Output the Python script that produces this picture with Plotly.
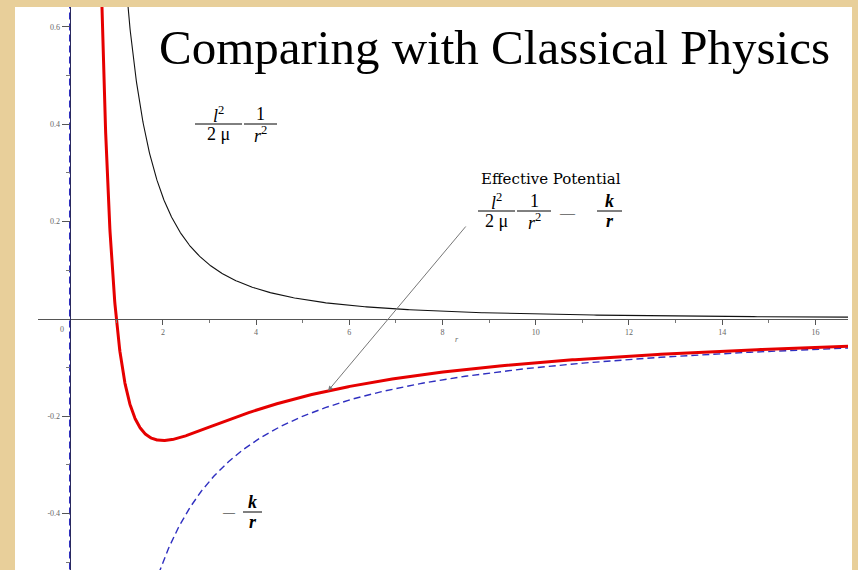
import numpy as np
import plotly.graph_objects as go

# Effective potential for a central force: U_eff = (l^2 / 2mu) / r^2 - k / r
L2_OVER_2MU = 1.0
K = 1.0

X_RANGE = [-0.68, 16.70]
Y_RANGE = [-0.516, 0.641]

X_TICKS = [2, 4, 6, 8, 10, 12, 14, 16]
X_TICK_LABELS = ["2", "4", "6", "8", "10", "12", "14", "16"]
X_MINOR = [1, 3, 5, 7, 9, 11, 13, 15]
Y_TICKS = [-0.4, -0.2, 0.2, 0.4, 0.6]
Y_TICK_LABELS = ["-0.4", "-0.2", "0.2", "0.4", "0.6"]
Y_MINOR = [-0.5, -0.3, -0.1, 0.1, 0.3, 0.5]

W, H = 858, 570
ML, MR, MT, MB = 38, 10, 7, 0
PW, PH = W - ML - MR, H - MT - MB

r_pos = np.geomspace(0.004, 16.9, 1600)
r_neg = np.linspace(-0.68, -0.004, 50)

centrifugal = L2_OVER_2MU / r_pos**2
coulomb_r = np.concatenate([r_neg, r_pos])
coulomb = -K / coulomb_r
effective = L2_OVER_2MU / r_pos**2 - K / r_pos


def px_to_data(px, py):
    """Convert a pixel position on the page to data coordinates."""
    x = X_RANGE[0] + (px - ML) / PW * (X_RANGE[1] - X_RANGE[0])
    y = Y_RANGE[1] - (py - MT) / PH * (Y_RANGE[1] - Y_RANGE[0])
    return x, y


fig = go.Figure()

fig.add_trace(go.Scatter(x=coulomb_r, y=coulomb, mode="lines",
                         line=dict(color="#2f2fc0", width=1.4, dash="7px,4px"),
                         hoverinfo="skip"))
fig.add_trace(go.Scatter(x=r_pos, y=centrifugal, mode="lines",
                         line=dict(color="#111111", width=1.1),
                         hoverinfo="skip"))
fig.add_trace(go.Scatter(x=r_pos, y=effective, mode="lines",
                         line=dict(color="#e60000", width=3),
                         hoverinfo="skip"))

serif = "Liberation Serif"
tick_font = dict(family=serif, size=8, color="#666666")

fig.update_layout(
    width=W, height=H,
    margin=dict(l=ML, r=MR, t=MT, b=MB, pad=0),
    paper_bgcolor="#e8cf9a",
    plot_bgcolor="rgba(0,0,0,0)",
    showlegend=False,
    xaxis=dict(
        range=X_RANGE, anchor="free",
        position=(0 - Y_RANGE[0]) / (Y_RANGE[1] - Y_RANGE[0]),
        showgrid=False, zeroline=False,
        showline=True, linecolor="#555555", linewidth=1,
        tickmode="array", tickvals=X_TICKS, ticktext=X_TICK_LABELS,
        ticks="outside", ticklen=5, tickcolor="#555555", tickwidth=1,
        tickfont=tick_font,
        minor=dict(tickmode="array", tickvals=X_MINOR, ticks="outside",
                   ticklen=3, tickcolor="#777777", showgrid=False),
    ),
    yaxis=dict(
        range=Y_RANGE, anchor="free",
        position=(0 - X_RANGE[0]) / (X_RANGE[1] - X_RANGE[0]),
        showgrid=False, zeroline=False,
        showline=True, linecolor="#2a2a60", linewidth=1,
        tickmode="array", tickvals=Y_TICKS, ticktext=Y_TICK_LABELS,
        ticks="outside", ticklen=8, tickcolor="#555555", tickwidth=1,
        tickfont=tick_font,
        minor=dict(tickmode="array", tickvals=Y_MINOR, ticks="outside",
                   ticklen=4, tickcolor="#777777", showgrid=False),
    ),
)

# white slide panel behind the plot
fig.add_shape(type="rect", xref="paper", yref="paper", layer="below",
              x0=(15 - ML) / PW, x1=(852 - ML) / PW,
              y0=(H - MT - 570) / PH, y1=1.0,
              fillcolor="white", line=dict(width=0))

annotations = []


def text_at(px, py, text, size=16, xanchor="center", family=serif,
            color="black", angle=0):
    x, y = px_to_data(px, py)
    annotations.append(dict(x=x, y=y, xref="x", yref="y", text=text,
                            showarrow=False, xanchor=xanchor, yanchor="middle",
                            textangle=angle,
                            font=dict(family=family, size=size, color=color)))


def fraction(px0, px1, py, num, den, size=18):
    xc = (px0 + px1) / 2
    text_at(xc, py - 10, num, size)
    text_at(xc, py + 10, den, size)
    x0, y0 = px_to_data(px0, py)
    x1, _ = px_to_data(px1, py)
    fig.add_shape(type="line", xref="x", yref="y", x0=x0, x1=x1, y0=y0, y1=y0,
                  line=dict(color="black", width=1))


L2 = "<i>l</i><sup>2</sup>"
R2 = "<i>r</i><sup>2</sup>"
KB = "<b><i>k</i></b>"
RI = "<b><i>r</i></b>"

# centrifugal term label
fraction(195, 242, 124, L2, "2 \u03bc")
fraction(244, 277, 124, "1", R2)

# effective potential label
text_at(551, 179, "Effective Potential", size=15, family="DejaVu Serif")
fraction(478, 515, 211, L2, "2 \u03bc")
fraction(517, 551, 211, "1", R2)
text_at(567, 213, "\u2014", size=15)
fraction(597, 622, 211, KB, RI)

# -k/r label
text_at(229, 512, "\u2014", size=12)
fraction(243, 262, 512, KB, RI)

# axis names and origin label
text_at(23, 163, "<i>U</i>", size=8, color="#666666", angle=-90)
text_at(457, 339, "<i>r</i>", size=8, color="#666666")
text_at(62, 329, "0", size=8, color="#666666")

# slide title
text_at(157, 47, "Comparing with Classical Physics", size=49,
        xanchor="left")

# arrow pointing at the effective potential curve
head_r, _ = px_to_data(328, 389)
head_u = L2_OVER_2MU / head_r**2 - K / head_r
tail_r, tail_u = px_to_data(467, 225)
annotations.append(dict(x=head_r, y=head_u, xref="x", yref="y",
                        ax=tail_r, ay=tail_u, axref="x", ayref="y",
                        text="", showarrow=True, arrowhead=2, arrowsize=1,
                        arrowwidth=1, arrowcolor="#777777"))

fig.update_layout(annotations=annotations)

fig.write_html("out.html")
